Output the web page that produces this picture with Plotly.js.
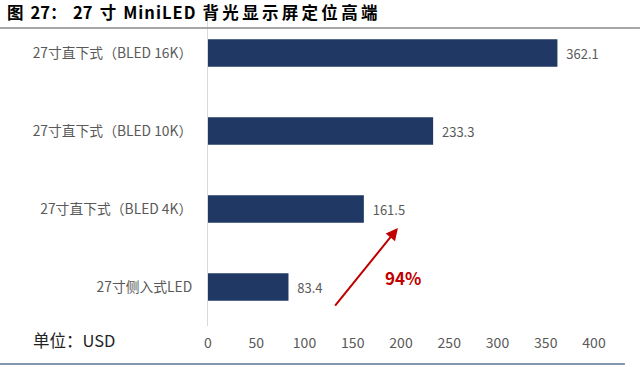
<!DOCTYPE html>
<html>
<head>
<meta charset="utf-8">
<script src="https://cdn.plot.ly/plotly-3.0.1.min.js"></script>
<style>html,body{margin:0;padding:0;background:#fff;}#chart{width:640px;height:367px;}</style>
</head>
<body>
<div id="chart"></div>
<script>
const categories = ["27寸侧入式LED", "27寸直下式（BLED 4K）", "27寸直下式（BLED 10K）", "27寸直下式（BLED 16K）"];
const prices = [83.4, 161.5, 233.3, 362.1];
const tickValues = [0, 50, 100, 150, 200, 250, 300, 350, 400];
const growthLabel = "94%";
const titleText = "图\u2009 27：\u2009\u200927\u2009 寸\u2009 M\u200Ai\u200An\u200Ai\u200AL\u200AE\u200AD\u2009 背\u2009光\u2009显\u2009示\u2009屏\u2009定\u2009位\u2009高\u2009端";

const font = "'Noto Sans CJK SC', 'Liberation Sans', sans-serif";

const trace = {
  type: "bar",
  orientation: "h",
  y: categories,
  x: prices,
  marker: {color: "#1f3864"},
  width: 0.35,
  text: prices.map(v => "  " + v.toFixed(1)),
  textposition: "outside",
  cliponaxis: false,
  textfont: {family: font, size: 13, color: "#595959"},
  hoverinfo: "none"
};

const layout = {
  width: 640, height: 367,
  margin: {l: 208, r: 46, t: 14, b: 41},
  paper_bgcolor: "#fff", plot_bgcolor: "#fff",
  showlegend: false,
  xaxis: {
    range: [0, 400], tickvals: tickValues, ticktext: tickValues.map(String),
    showgrid: false, zeroline: false, showline: false, ticks: "",
    tickfont: {family: font, size: 14, color: "#595959"},
    ticklabelstandoff: 7, fixedrange: true
  },
  yaxis: {
    type: "category", categoryorder: "array", categoryarray: categories,
    showgrid: false, zeroline: false, showline: true, linecolor: "#d9d9d9", linewidth: 1,
    ticks: "", tickfont: {family: font, size: 13.8, color: "#595959"},
    ticklabelstandoff: 12, fixedrange: true
  },
  shapes: [
    {type: "line", xref: "paper", yref: "paper", x0: -0.539, x1: 1.119, y0: 0.955, y1: 0.955,
     line: {color: "#a6a6a6", width: 2}},
    {type: "line", xref: "paper", yref: "paper", x0: -0.539, x1: 1.08, y0: -0.122, y1: -0.122,
     line: {color: "#8496b0", width: 2}}
  ],
  annotations: [
    {text: "<b>" + titleText + "</b>", xref: "paper", yref: "paper",
     x: -0.526, y: 1.006, xanchor: "left", yanchor: "middle", showarrow: false,
     font: {family: "'Noto Sans CJK SC', sans-serif", size: 16.5, color: "#000"}},
    {text: "单位：USD", xref: "paper", yref: "paper", x: -0.458, y: -0.045,
     xanchor: "left", yanchor: "middle", showarrow: false,
     font: {family: font, size: 16.5, color: "#222"}},
    {text: "", xref: "paper", yref: "paper", x: 0.492, y: 0.314, ax: -64, ay: 79,
     showarrow: true, arrowhead: 2, arrowsize: 1.2, arrowwidth: 2, arrowcolor: "#c00000"},
    {text: "<b>" + growthLabel + "</b>", xref: "paper", yref: "paper", x: 0.505, y: 0.154,
     xanchor: "center", yanchor: "middle", showarrow: false,
     font: {family: font, size: 17, color: "#c00000"}}
  ]
};

Plotly.newPlot("chart", [trace], layout, {displayModeBar: false, staticPlot: true});
</script>
</body>
</html>
